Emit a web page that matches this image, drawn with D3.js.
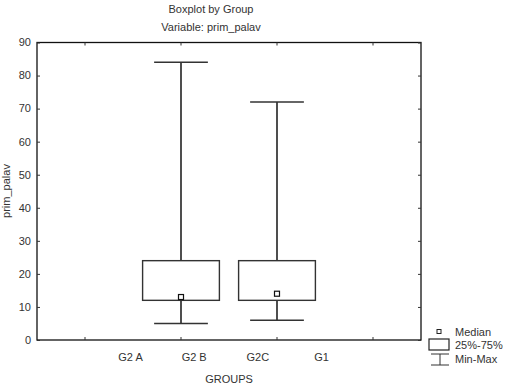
<!DOCTYPE html>
<html><head><meta charset="utf-8">
<script src="https://cdn.jsdelivr.net/npm/d3@7"></script>
<style>body{margin:0;background:#fff}svg{display:block}text{font-family:"Liberation Sans",Arial,sans-serif;fill:#333}</style>
</head><body><svg id="c" width="516" height="386"></svg>
<script>
const categories = ["G2 A", "G2 B", "G2C", "G1"];
const minVals    = [null, 5, 6, null];
const q1Vals     = [null, 12, 12, null];
const medianVals = [null, 13, 14, null];
const q3Vals     = [null, 24, 24, null];
const maxVals    = [null, 84, 72, null];
const yTicks = [0, 10, 20, 30, 40, 50, 60, 70, 80, 90];
const legendLabels = ["Median", "25%-75%", "Min-Max"];

const svg = d3.select("#c");
const L = 37, R = 421, T = 42.5, B = 340;
const x = d3.scaleBand().domain(categories).range([L, R]);
const xLab = d3.scaleBand().domain(["_a", ...categories, "_b"]).range([35, 417]);
const y = d3.scaleLinear().domain([0, 90]).range([B, T]);

// frame
svg.append("rect").attr("x", L).attr("y", T).attr("width", R - L).attr("height", B - T)
  .attr("fill", "none").attr("stroke", "#111").attr("stroke-width", 1.3);

// axes
const axLeft = svg.append("g").attr("transform", `translate(${L},0)`)
  .call(d3.axisRight(y).tickValues(yTicks).tickSize(3).tickFormat(""));
const axRight = svg.append("g").attr("transform", `translate(${R},0)`)
  .call(d3.axisLeft(y).tickValues(yTicks).tickSize(3).tickFormat(""));
const axBot = svg.append("g").attr("transform", `translate(0,${B})`)
  .call(d3.axisTop(x).tickSize(3).tickFormat(""));
const axTop = svg.append("g").attr("transform", `translate(0,${T})`)
  .call(d3.axisBottom(x).tickSize(3).tickFormat(""));
[axLeft, axRight, axBot, axTop].forEach(g => { g.select(".domain").remove(); g.selectAll("line").attr("stroke", "#333"); });

// y tick labels
svg.append("g").selectAll("text").data(yTicks).join("text")
  .attr("x", 31).attr("y", d => y(d)).attr("dy", "0.35em")
  .attr("text-anchor", "end").attr("font-size", 11).text(d => d);

// x labels (offset like the original)
svg.append("g").selectAll("text").data(categories).join("text")
  .attr("x", d => xLab(d) + xLab.bandwidth() / 2).attr("y", 361)
  .attr("text-anchor", "middle").attr("font-size", 11).text(d => d);

// titles
svg.append("text").attr("x", 211).attr("y", 13).attr("text-anchor", "middle").attr("font-size", 11).text("Boxplot by Group");
svg.append("text").attr("x", 211).attr("y", 31).attr("text-anchor", "middle").attr("font-size", 11).text("Variable: prim_palav");
svg.append("text").attr("x", 229).attr("y", 383).attr("text-anchor", "middle").attr("font-size", 11).text("GROUPS");
svg.append("text").attr("transform", `translate(10,191) rotate(-90)`).attr("text-anchor", "middle").attr("font-size", 11).text("prim_palav");

// boxes
const idx = categories.map((c, i) => i).filter(i => maxVals[i] != null);
const bw = x.bandwidth() * 0.8, cw = x.bandwidth() * 0.56;
const g = svg.append("g");
idx.forEach(i => {
  const cx = x(categories[i]) + x.bandwidth() / 2;
  g.append("line").attr("x1", cx).attr("x2", cx).attr("y1", y(maxVals[i])).attr("y2", y(q3Vals[i]))
    .attr("stroke", "#222").attr("stroke-width", 1.6);
  g.append("line").attr("x1", cx).attr("x2", cx).attr("y1", y(q1Vals[i])).attr("y2", y(minVals[i]))
    .attr("stroke", "#222").attr("stroke-width", 1.6);
  g.append("line").attr("x1", cx - cw / 2).attr("x2", cx + cw / 2).attr("y1", y(maxVals[i])).attr("y2", y(maxVals[i]))
    .attr("stroke", "#333").attr("stroke-width", 1.5);
  g.append("line").attr("x1", cx - cw / 2).attr("x2", cx + cw / 2).attr("y1", y(minVals[i])).attr("y2", y(minVals[i]))
    .attr("stroke", "#333").attr("stroke-width", 1.5);
  g.append("rect").attr("x", cx - bw / 2).attr("y", y(q3Vals[i])).attr("width", bw).attr("height", y(q1Vals[i]) - y(q3Vals[i]))
    .attr("fill", "#fff").attr("stroke", "#333").attr("stroke-width", 1.4);
  g.append("rect").attr("x", cx - 2.5).attr("y", y(medianVals[i]) - 2.5).attr("width", 5).attr("height", 5)
    .attr("fill", "#fff").attr("stroke", "#111").attr("stroke-width", 1.2);
});

// legend
const lg = svg.append("g");
lg.append("rect").attr("x", 437).attr("y", 329.5).attr("width", 4).attr("height", 4).attr("fill", "#fff").attr("stroke", "#222").attr("stroke-width", 1);
lg.append("rect").attr("x", 429).attr("y", 339).attr("width", 20).attr("height", 11).attr("fill", "#fff").attr("stroke", "#222").attr("stroke-width", 1.2);
lg.append("line").attr("x1", 431).attr("x2", 449).attr("y1", 354).attr("y2", 354).attr("stroke", "#333");
lg.append("line").attr("x1", 440).attr("x2", 440).attr("y1", 354).attr("y2", 365).attr("stroke", "#333");
lg.append("line").attr("x1", 431).attr("x2", 449).attr("y1", 365).attr("y2", 365).attr("stroke", "#333");
lg.selectAll("text.l").data(legendLabels).join("text").attr("class", "l")
  .attr("x", 455).attr("y", (d, i) => 332 + i * 13.5).attr("dy", "0.35em").attr("font-size", 11).text(d => d);
</script></body></html>
